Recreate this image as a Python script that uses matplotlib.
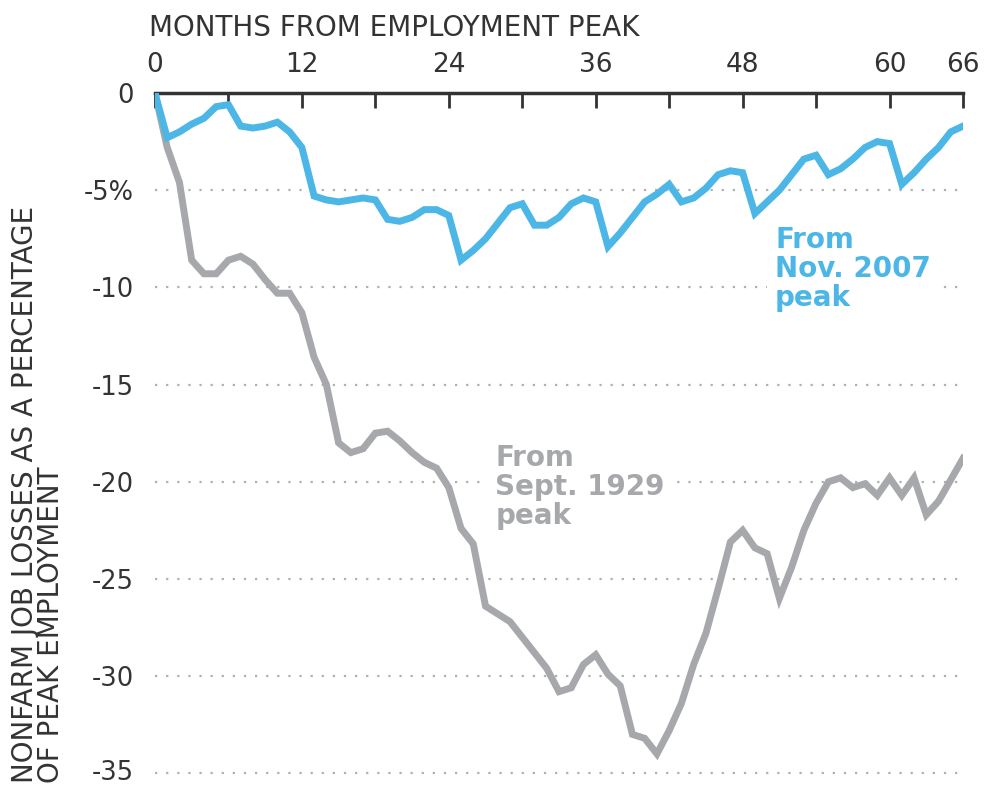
import matplotlib
matplotlib.use("Agg")
import matplotlib.pyplot as plt
from matplotlib.transforms import ScaledTranslation

BLUE = "#4cb6e6"
GRAY = "#a6a8ab"
DARK = "#333333"
GRID = "#b0b0b0"
COND = ["Liberation Sans Narrow", "DejaVu Sans"]

months = list(range(67))

# nonfarm job losses, % of peak employment (not seasonally adjusted)
loss_2007 = [
    0.0, -2.3, -2.0, -1.6, -1.3, -0.7, -0.6, -1.7, -1.8, -1.7,
    -1.5, -2.0, -2.8, -5.3, -5.5, -5.6, -5.5, -5.4, -5.5, -6.5,
    -6.6, -6.4, -6.0, -6.0, -6.3, -8.6, -8.1, -7.5, -6.7, -5.9,
    -5.7, -6.8, -6.8, -6.4, -5.7, -5.4, -5.6, -7.9, -7.2, -6.4,
    -5.6, -5.2, -4.7, -5.6, -5.4, -4.9, -4.2, -4.0, -4.1, -6.2,
    -5.6, -5.0, -4.2, -3.4, -3.2, -4.2, -3.9, -3.4, -2.8, -2.5,
    -2.6, -4.7, -4.1, -3.4, -2.8, -2.0, -1.7,
]

loss_1929 = [
    0.0, -2.8, -4.6, -8.6, -9.3, -9.3, -8.6, -8.4, -8.8, -9.6,
    -10.3, -10.3, -11.3, -13.6, -15.0, -18.0, -18.5, -18.3, -17.5, -17.4,
    -17.9, -18.5, -19.0, -19.3, -20.3, -22.4, -23.2, -26.4, -26.8, -27.2,
    -28.0, -28.8, -29.6, -30.8, -30.6, -29.4, -28.9, -29.9, -30.5, -33.0,
    -33.2, -34.0, -32.8, -31.4, -29.4, -27.8, -25.5, -23.1, -22.5, -23.4,
    -23.7, -26.0, -24.4, -22.5, -21.1, -20.0, -19.8, -20.3, -20.1, -20.7,
    -19.8, -20.7, -19.8, -21.7, -21.0, -19.9, -18.8,
]

x_ticks = list(range(0, 67, 6))
x_labels = ["0", "", "12", "", "24", "", "36", "", "48", "", "60", "66"]
y_ticks = [0, -5, -10, -15, -20, -25, -30, -35]
y_labels = ["0", "-5%", "-10", "-15", "-20", "-25", "-30", "-35"]


fig = plt.figure(figsize=(9.87, 7.85), dpi=100)
fig.patch.set_facecolor("white")
ax = fig.add_axes([0.157, 0.005, 0.8187, 0.8765])

ax.plot(months, loss_1929, color=GRAY, linewidth=5, solid_joinstyle="miter",
        zorder=3)
ax.plot(months, loss_2007, color=BLUE, linewidth=5, solid_joinstyle="miter",
        zorder=4)

ax.set_xlim(0, 66)
ax.set_ylim(-35.4, 0)

# x axis on top
ax.xaxis.tick_top()
ax.set_xticks(x_ticks)
ax.set_xticklabels(x_labels, family=COND, fontsize=19, color=DARK)
ax.tick_params(axis="x", direction="in", length=11, width=2, color=DARK,
               pad=11)

ax.set_yticks(y_ticks)
ax.set_yticklabels(y_labels, family=COND, fontsize=18.5, color=DARK)
ax.tick_params(axis="y", length=0, pad=15)

# keep the bottom label inside the canvas
last = ax.get_yticklabels()[-1]
last.set_transform(last.get_transform()
                   + ScaledTranslation(0, 3 / 100, fig.dpi_scale_trans))

for side in ["left", "right", "bottom"]:
    ax.spines[side].set_visible(False)
ax.spines["top"].set_color(DARK)
ax.spines["top"].set_linewidth(2.5)

for y in y_ticks[1:]:
    ax.axhline(y, color=GRID, linestyle=(0, (1, 4)), linewidth=1.6, zorder=1)

fig.text(149 / 987, 1 - 28 / 785, "MONTHS FROM EMPLOYMENT PEAK",
         family=COND, fontsize=20, color=DARK, ha="left", va="center")

fig.text(38 / 987, 2 / 785,
         "NONFARM JOB LOSSES AS A PERCENTAGE\nOF PEAK EMPLOYMENT",
         family=COND, fontsize=20, color=DARK, rotation=90,
         ha="center", va="bottom", multialignment="left", linespacing=0.95)

ax.text(50.65, -6.85, "From\nNov. 2007\npeak", color=BLUE, fontsize=20,
        weight="bold", ha="left", va="top", linespacing=1.05, zorder=2,
        bbox=dict(facecolor="white", edgecolor="none", pad=6))
ax.text(27.8, -18.05, "From\nSept. 1929\npeak", color=GRAY, fontsize=20,
        weight="bold", ha="left", va="top", linespacing=1.05, zorder=2,
        bbox=dict(facecolor="white", edgecolor="none", pad=6))

fig.savefig("out.png", dpi=100, facecolor="white")
